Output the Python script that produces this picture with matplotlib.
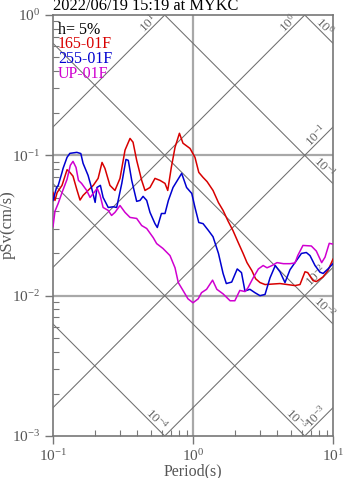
import numpy as np
import matplotlib
matplotlib.use("Agg")
import matplotlib.pyplot as plt

plt.rcParams['font.family'] = ['Liberation Serif', 'DejaVu Serif']
plt.rcParams['mathtext.fontset'] = 'custom'
plt.rcParams['mathtext.rm'] = 'Liberation Serif'
plt.rcParams['mathtext.it'] = 'Liberation Serif:italic'

# pSv spectra (cm/s), per component
period_ns = [0.1, 0.1033, 0.107, 0.116, 0.126, 0.132, 0.139, 0.148, 0.156, 0.164,
             0.178, 0.194, 0.210, 0.224, 0.235, 0.255, 0.277, 0.301, 0.327, 0.355,
             0.373, 0.396, 0.43, 0.454, 0.493, 0.535, 0.581, 0.631, 0.66, 0.70,
             0.744, 0.80, 0.848, 0.952, 1.033, 1.10, 1.18, 1.26, 1.39, 1.52,
             1.64, 1.78, 1.93, 2.10, 2.28, 2.43, 2.63, 2.80, 3.01, 3.27,
             4.18, 5.35, 5.81, 6.31, 6.6, 7.2, 7.6, 8.48, 9.2, 10.0]
sv_ns = [0.0543, 0.0477, 0.0543, 0.0611, 0.079, 0.0756, 0.071, 0.057, 0.048, 0.0518,
         0.0562, 0.0611, 0.0685, 0.089, 0.0807, 0.0611, 0.0562, 0.0685, 0.109, 0.132,
         0.124, 0.0921, 0.0663, 0.0562, 0.059, 0.0685, 0.0663, 0.0631, 0.0562, 0.082,
         0.114, 0.1436, 0.122, 0.112, 0.0968, 0.0756, 0.0696, 0.0650, 0.0562, 0.0460,
         0.0405, 0.0340, 0.0291, 0.0240, 0.0200, 0.0172, 0.0151, 0.0132, 0.0124, 0.0120,
         0.0122, 0.0118, 0.0120, 0.0148, 0.0146, 0.0128, 0.0126, 0.0136, 0.0151, 0.0182]

period_ew = [0.1, 0.106, 0.109, 0.116, 0.118, 0.126, 0.132, 0.148, 0.158, 0.164,
             0.178, 0.189, 0.200, 0.206, 0.218, 0.228, 0.248, 0.27, 0.285, 0.31,
             0.332, 0.345, 0.365, 0.396, 0.418, 0.44, 0.467, 0.493, 0.535, 0.556,
             0.595, 0.631, 0.667, 0.72, 0.83, 0.90, 0.98, 1.033, 1.10, 1.18,
             1.29, 1.39, 1.52, 1.64, 1.73, 1.89, 2.07, 2.22, 2.35, 2.55,
             2.77, 3.01, 3.27, 3.55, 3.87, 4.18, 4.54, 4.93, 5.35, 5.95,
             6.45, 6.85, 7.44, 8.07, 8.5, 9.2, 10.0]
sv_ew = [0.0477, 0.059, 0.0611, 0.0756, 0.0807, 0.0968, 0.1033, 0.105, 0.103, 0.0877,
         0.072, 0.0581, 0.0462, 0.059, 0.0611, 0.0501, 0.0425, 0.043, 0.0425, 0.0631,
         0.0935, 0.0921, 0.0663, 0.047, 0.0477, 0.051, 0.0477, 0.0392, 0.0326, 0.0306,
         0.0385, 0.0385, 0.0477, 0.059, 0.0744, 0.059, 0.0535, 0.0425, 0.0332, 0.0326,
         0.0291, 0.0263, 0.0200, 0.0144, 0.0122, 0.0125, 0.0155, 0.0146, 0.0108, 0.0111,
         0.0105, 0.0100, 0.0102, 0.0134, 0.0164, 0.0148, 0.0124, 0.0153, 0.0172, 0.0200,
         0.0203, 0.0193, 0.0164, 0.0147, 0.0144, 0.0155, 0.0169]

period_ud = [0.1, 0.1033, 0.109, 0.116, 0.126, 0.133, 0.139, 0.146, 0.152, 0.16,
             0.174, 0.184, 0.194, 0.207, 0.217, 0.228, 0.248, 0.262, 0.277, 0.301,
             0.327, 0.355, 0.396, 0.43, 0.467, 0.52, 0.55, 0.61, 0.685, 0.744,
             0.785, 0.848, 0.92, 1.0, 1.09, 1.15, 1.25, 1.38, 1.48, 1.64,
             1.84, 1.99, 2.16, 2.35, 2.46, 2.69, 2.93, 3.17, 3.38, 3.67,
             3.98, 4.43, 4.93, 5.35, 5.6, 6.1, 7.0, 7.6, 8.3, 8.77,
             9.4, 10.0]
sv_ud = [0.031, 0.040, 0.0455, 0.0543, 0.0675, 0.085, 0.0906, 0.082, 0.0663, 0.0631,
         0.0562, 0.0501, 0.0535, 0.0581, 0.0518, 0.0425, 0.0405, 0.0373, 0.0392, 0.0439,
         0.0392, 0.0361, 0.0355, 0.0316, 0.0301, 0.0259, 0.0235, 0.0217, 0.0193, 0.0158,
         0.0124, 0.0109, 0.0095, 0.0089, 0.0095, 0.0105, 0.0111, 0.0129, 0.0111, 0.0103,
         0.0092, 0.0092, 0.0109, 0.0107, 0.0113, 0.0134, 0.0155, 0.0164, 0.0158, 0.0164,
         0.0172, 0.0169, 0.0169, 0.0171, 0.0193, 0.0228, 0.0226, 0.0208, 0.0172, 0.0188,
         0.0236, 0.0233]

comp_names = ['165-01F', '255-01F', 'UP-01F']
comp_colors = ['#d80000', '#0000d0', '#d000d0']

# tripartite guide lines: acceleration (cm/s/s) and displacement (cm)
acc_levels = [10.0, 1.0, 0.1, 0.01, 0.001]
disp_levels = [1.0, 0.1, 0.01, 0.001, 0.0001]

title = '2022/06/19 15:19 at MYKC'
damping_label = 'h= 5%'

fig = plt.figure(figsize=(3.47, 4.78), dpi=100)
ax = fig.add_axes([53 / 347, 42 / 478, 280 / 347, 421 / 478])
ax.set_xscale('log')
ax.set_yscale('log')
ax.set_xlim(0.1, 10)
ax.set_ylim(0.001, 1)

guide = '#6e6e6e'
tt = np.geomspace(0.1, 10, 50)
for a in acc_levels:
    ax.plot(tt, a * tt / (2 * np.pi), color=guide, lw=0.75, zorder=1)
for d in disp_levels:
    ax.plot(tt, 2 * np.pi * d / tt, color=guide, lw=0.75, zorder=1)

# grid at decades
ax.axvline(1.0, color='#a8a8a8', lw=1.6, zorder=0.5)
for yv in [0.1, 0.01]:
    ax.axhline(yv, color='#a8a8a8', lw=1.6, zorder=0.5)


def exp_label(v):
    e = int(round(np.log10(v)))
    return r'10$^{%d}$' % e


back = 0.09
off = 0.03
for a in acc_levels:
    tx = min(2 * np.pi / a, 10.0)
    lx = np.log10(tx)
    ly = np.log10(a * tx / (2 * np.pi))
    px, py = lx - back - off, ly - back + off
    ax.text(10 ** px, 10 ** py, exp_label(a), rotation=45, ha='center', va='center',
            rotation_mode='anchor', color='#666666', fontsize=9.5, zorder=2)
for d in disp_levels:
    tx = min(2 * np.pi * d / 0.001, 10.0)
    lx = np.log10(tx)
    ly = np.log10(2 * np.pi * d / tx)
    px, py = lx - back + off, ly + back + off
    ax.text(10 ** px, 10 ** py, exp_label(d), rotation=-45, ha='center', va='center',
            rotation_mode='anchor', color='#666666', fontsize=9.5, zorder=2)

series = [(period_ns, sv_ns), (period_ew, sv_ew), (period_ud, sv_ud)]
for (p, s), c in zip(series, comp_colors):
    ax.plot(p, s, color=c, lw=1.1, zorder=3)

for sp in ax.spines.values():
    sp.set_color('#777777')
    sp.set_linewidth(1.2)
ax.tick_params(which='major', direction='out', length=6, width=1.0, color='#777777',
               labelcolor='#555555', labelsize=11, pad=3)
ax.tick_params(which='minor', direction='in', length=4, width=0.8, color='#777777')
ax.tick_params(top=False, right=False, which='both')

fig.text(53 / 347, 1 - 10.5 / 478, title, ha='left', va='baseline', fontsize=11.8, color='black')
legend_y = [0.955, 0.921, 0.886, 0.851]
ax.text(0.018, legend_y[0], damping_label, transform=ax.transAxes, ha='left', va='baseline',
        fontsize=11.5, color='black')
for name, c, yy in zip(comp_names, comp_colors, legend_y[1:]):
    ax.text(0.018, yy, name, transform=ax.transAxes, ha='left', va='baseline',
            fontsize=11.5, color=c)

fig.text(8 / 347, 1 - 225 / 478, 'pSv(cm/s)', rotation=90, ha='center', va='center',
         fontsize=12, color='#555555')
fig.text(193 / 347, 1 - 471 / 478, 'Period(s)', ha='center', va='center',
         fontsize=11.5, color='#555555')

fig.savefig('out.png', dpi=100)
